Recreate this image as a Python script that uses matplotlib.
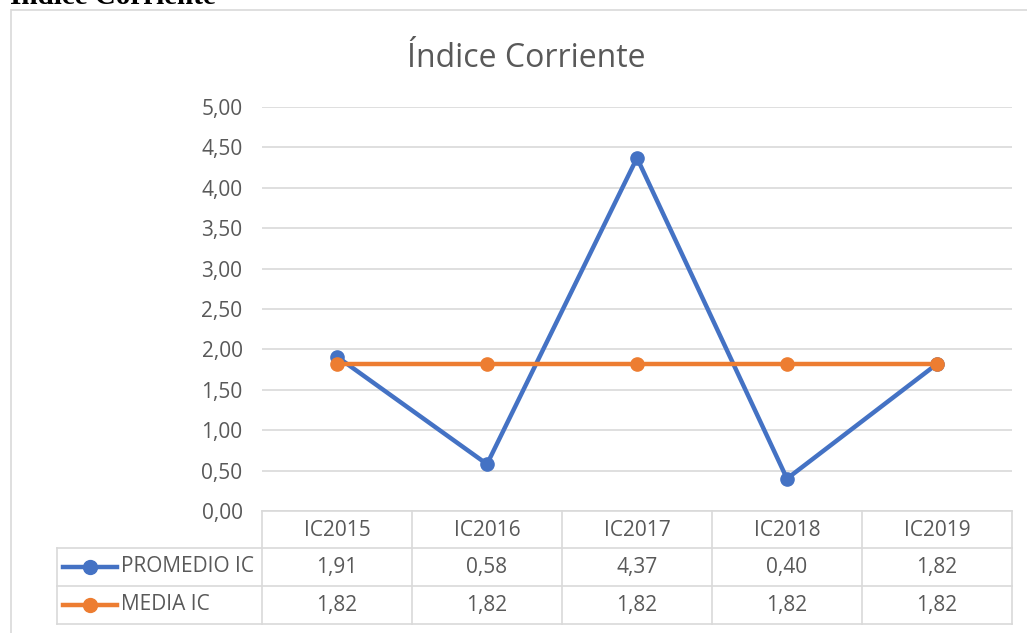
import matplotlib.pyplot as plt
from matplotlib.lines import Line2D
from matplotlib.patches import Rectangle

categories = ["IC2015", "IC2016", "IC2017", "IC2018", "IC2019"]
promedio_ic = [1.91, 0.58, 4.37, 0.40, 1.82]
media_ic = [1.82, 1.82, 1.82, 1.82, 1.82]
series_names = ["PROMEDIO IC", "MEDIA IC"]
y_ticks = [0, 0.5, 1, 1.5, 2, 2.5, 3, 3.5, 4, 4.5, 5]

blue = "#4472C4"
orange = "#ED7D31"
grid_col = "#D9D9D9"
text_col = "#595959"
fs = 15

plt.rcParams['font.family'] = ['Open Sans', 'DejaVu Sans']

W, H = 1027, 633
fig = plt.figure(figsize=(W / 100, H / 100), dpi=100)

# outer chart border + heading cut off at the top
fig.patches.append(Rectangle((11 / W, -0.1), 1.2, 1 - 10 / H + 0.1, transform=fig.transFigure,
                             fill=False, edgecolor=grid_col, lw=1.2))
fig.text(10 / W, 1 - 4 / H, "Índice Corriente", family="Liberation Serif", weight="bold",
         fontsize=21, va="baseline", ha="left", color="black")

ax_left, ax_right, ax_top, ax_bot = 262, 1012, 107, 511
ax = fig.add_axes([ax_left / W, (H - ax_bot) / H, (ax_right - ax_left) / W, (ax_bot - ax_top) / H])
ax_h = ax_bot - ax_top

x = list(range(len(categories)))
ax.plot(x, promedio_ic, color=blue, lw=3.2, marker="o", ms=9.5, zorder=3)
ax.plot(x, media_ic, color=orange, lw=3.2, marker="o", ms=9.5, zorder=4)

ax.set_xlim(-0.5, len(categories) - 0.5)
ax.set_ylim(0, 5)
ax.set_yticks(y_ticks)
ax.set_yticklabels([f"{v:.2f}".replace(".", ",") for v in y_ticks], color=text_col, fontsize=fs)
ax.set_xticks([])
ax.tick_params(axis="y", length=0, pad=14)
ax.grid(axis="y", color=grid_col, lw=1.2)
ax.set_axisbelow(True)
for s in ax.spines.values():
    s.set_visible(False)

fig.text(526 / W, 1 - 67 / H, "Índice Corriente", fontsize=23, color=text_col,
         ha="center", va="baseline")

# data table below the plot, in px offsets from axes bottom
def ay(px):
    return -px / ax_h

def px_x(px):
    return (px - ax_left) / (ax_right - ax_left)

tr = ax.get_xaxis_transform()
row_tops = [0, 37, 75, 113]
col_edges = [i - 0.5 for i in range(len(categories) + 1)]

kw = dict(color=grid_col, lw=1.2, clip_on=False)
ax.add_line(Line2D([col_edges[0], col_edges[-1]], [ay(0), ay(0)], transform=tr, **kw))
for r in row_tops[1:]:
    ax.add_line(Line2D([px_x(57), 1], [ay(r), ay(r)], transform=ax.transAxes, **kw))
for c in col_edges:
    ax.add_line(Line2D([c, c], [ay(0), ay(row_tops[-1])], transform=tr, **kw))
ax.add_line(Line2D([px_x(57), px_x(57)], [ay(row_tops[1]), ay(row_tops[-1])], transform=ax.transAxes, **kw))

for i, cat in enumerate(categories):
    ax.text(i, ay(19), cat, transform=tr, ha="center", va="center", fontsize=fs, color=text_col)

for row, (name, vals, col) in enumerate(zip(series_names, [promedio_ic, media_ic], [blue, orange])):
    yc = ay((row_tops[row + 1] + row_tops[row + 2]) / 2)
    for i, v in enumerate(vals):
        ax.text(i, yc, f"{v:.2f}".replace(".", ","), transform=tr, ha="center", va="center",
                fontsize=fs, color=text_col)
    ax.add_line(Line2D([px_x(63), px_x(117)], [yc, yc], transform=ax.transAxes, color=col,
                       lw=3.2, clip_on=False))
    ax.add_line(Line2D([px_x(90)], [yc], transform=ax.transAxes, color=col, marker="o", ms=10,
                       clip_on=False))
    ax.text(px_x(121), yc, name, transform=ax.transAxes, ha="left", va="center",
            fontsize=fs, color=text_col)

fig.savefig("out.png", dpi=100)
